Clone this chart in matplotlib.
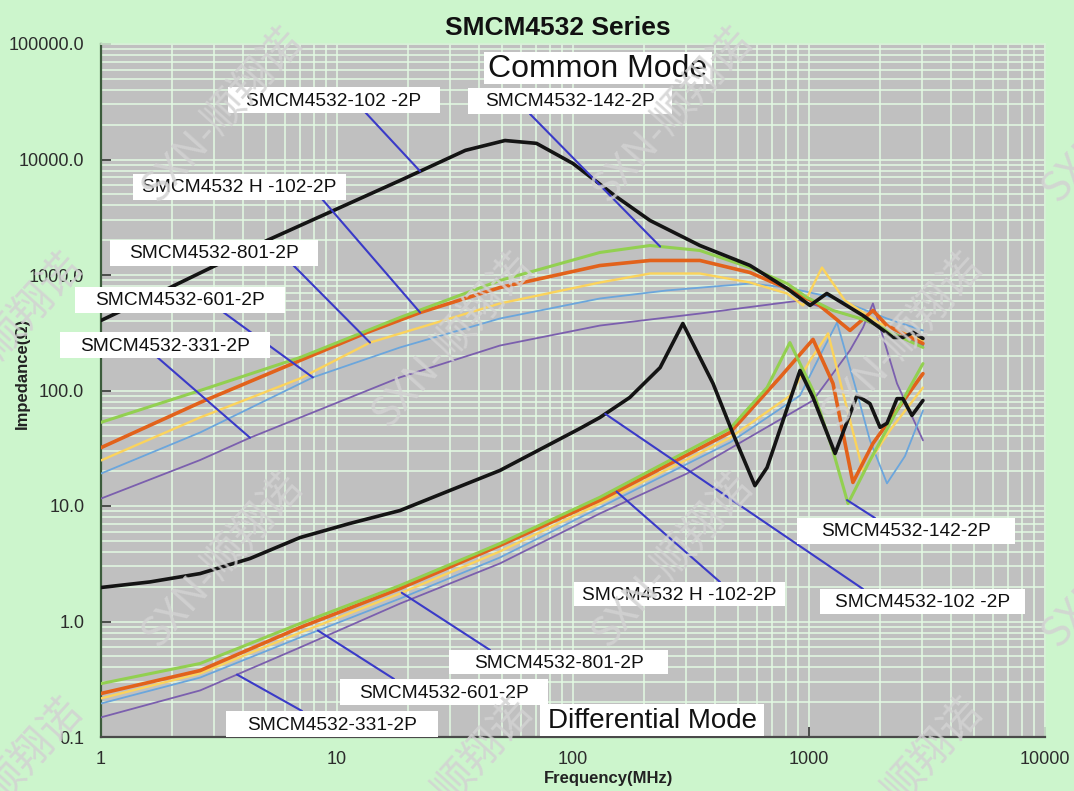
import numpy as np
import matplotlib
matplotlib.use('Agg')
import matplotlib.pyplot as plt
from matplotlib.patches import Rectangle

plt.rcParams['font.family'] = ['Liberation Sans', 'DejaVu Sans']

# ---------------- data (frequency MHz, impedance Ohm) ----------------
# Common mode
cm_102_f = [1, 1.61, 5.05, 18.5, 35, 51.5, 70, 100, 150, 212, 345, 562, 807, 1010, 1190, 1694, 2270, 2500, 2760, 3040]
cm_102_z = [404, 640, 1990, 6580, 12000, 14600, 13800, 9230, 4880, 2965, 1800, 1210, 764, 545, 692, 446, 288, 288, 318, 282]

cm_142_f = [1, 2.63, 6.97, 18.5, 49, 130, 212, 345, 562, 807, 982, 1264, 1762, 2270, 3040]
cm_142_z = [53, 100, 193, 429, 896, 1567, 1800, 1630, 1160, 844, 638, 493, 404, 312, 236]

cm_h102_f = [1, 2.63, 6.97, 13.4, 22.5, 49, 130, 212, 345, 562, 807, 1082, 1492, 1866, 2140, 3040]
cm_h102_z = [32, 78.7, 182, 318, 473, 779, 1208, 1336, 1336, 1051, 764, 567, 331, 493, 365, 255]

cm_801_f = [1, 2.63, 6.97, 13.8, 49, 130, 212, 345, 562, 807, 944, 1135, 1420, 2000, 3040]
cm_801_z = [24.8, 58.4, 127, 260, 567, 861, 1030, 1030, 861, 692, 545, 1160, 601, 380, 271]

cm_601_f = [1, 2.63, 7.91, 18.5, 49, 130, 250, 562, 807, 1264, 2140, 3040]
cm_601_z = [19.1, 43.3, 130, 236, 420, 626, 735, 844, 779, 638, 420, 331]

cm_331_f = [1, 2.63, 4.28, 18.5, 49, 130, 345, 916, 1644, 3040]
cm_331_z = [11.6, 25, 39, 130, 245, 365, 464, 601, 420, 245]

# Differential mode
dm_102_f = [1, 1.61, 2.63, 4.28, 6.97, 11.3, 18.5, 30, 49, 107, 130, 174, 234, 292, 392, 476, 590, 664,
            916, 1040, 1290, 1597, 1812, 2000, 2140, 2360, 2500, 2730, 3040]
dm_102_z = [1.97, 2.2, 2.6, 3.51, 5.33, 7.05, 9.14, 13.6, 20.3, 46.9, 58.4, 87, 158, 380, 115, 42.5, 15, 21.5,
            149, 87, 28.5, 90.5, 77, 48, 52, 85, 85, 60.8, 82]

dm_142_f = [1, 2.63, 6.97, 18.5, 49, 130, 463, 664, 830, 1040, 1264, 1463, 1812, 2360, 3040]
dm_142_z = [0.29, 0.433, 0.96, 2.05, 4.73, 11.9, 46.9, 106, 260, 100, 30, 10.5, 24.8, 67, 171]

dm_h102_f = [1, 2.63, 6.97, 18.5, 49, 130, 463, 754, 1040, 1264, 1535, 1866, 3040]
dm_h102_z = [0.238, 0.376, 0.887, 1.93, 4.55, 11.2, 43.3, 130, 277, 115, 16, 34.8, 140]

dm_801_f = [1, 2.63, 6.97, 18.5, 49, 130, 463, 830, 1010, 1205, 1420, 1694, 2200, 3040]
dm_801_z = [0.216, 0.355, 0.80, 1.75, 4.04, 10.5, 39, 90, 182, 312, 82, 20, 45, 106]

dm_601_f = [1, 2.63, 6.97, 18.5, 49, 130, 463, 916, 1114, 1315, 1567, 1812, 2140, 2550, 3040]
dm_601_z = [0.195, 0.327, 0.727, 1.58, 3.58, 9.7, 35.5, 90.5, 201, 388, 110, 37, 15.7, 27, 67]

dm_331_f = [1, 2.63, 6.97, 18.5, 49, 130, 304, 1040, 1490, 1694, 1866, 2360, 3040]
dm_331_z = [0.148, 0.253, 0.596, 1.43, 3.18, 8.61, 19.1, 82, 222, 351, 567, 115, 37]

x_ticks = [1, 10, 100, 1000, 10000]
x_tick_labels = ['1', '10', '100', '1000', '10000']
y_ticks = [0.1, 1, 10, 100, 1000, 10000, 100000]
y_tick_labels = ['0.1', '1.0', '10.0', '100.0', '1000.0', '10000.0', '100000.0']

# ---------------- figure ----------------
W, H = 1074, 791
fig = plt.figure(figsize=(W / 100, H / 100), dpi=100, facecolor='#ccf5cc')


def fx(px):
    return px / W


def fy(py):
    return 1 - py / H


ax = fig.add_axes([fx(101), fy(737), 944 / W, 693 / H])
ax.set_facecolor('#c0c0c0')
ax.set_xscale('log')
ax.set_yscale('log')
ax.set_xlim(1, 10000)
ax.set_ylim(0.1, 100000)
ax.grid(which='both', color='#e2fae2', lw=1.1)
ax.set_axisbelow(True)
ax.set_xticks(x_ticks)
ax.set_xticklabels(x_tick_labels)
ax.set_yticks(y_ticks)
ax.set_yticklabels(y_tick_labels)
ax.tick_params(which='minor', length=0)
ax.tick_params(which='major', direction='in', length=7, width=1.3, color='#404040',
               labelsize=13, labelcolor='#2c2c2c')
ax.tick_params(axis='y', pad=12)
ax.tick_params(axis='x', pad=10)
ax.spines['left'].set_color('#3c5c3c')
ax.spines['left'].set_linewidth(1.6)
ax.spines['bottom'].set_color('#4a4a4a')
ax.spines['bottom'].set_linewidth(1.6)
for s in ('top', 'right'):
    ax.spines[s].set_color('#d8f2d8')
    ax.spines[s].set_linewidth(1.2)

c_black, c_green, c_orange = '#141414', '#92d050', '#e2621b'
c_yellow, c_blue, c_purple = '#fbd35c', '#6ba6dc', '#7b5fae'

series = [
    (cm_331_f, cm_331_z, c_purple, 1.3), (dm_331_f, dm_331_z, c_purple, 1.3),
    (cm_601_f, cm_601_z, c_blue, 1.3), (dm_601_f, dm_601_z, c_blue, 1.3),
    (cm_801_f, cm_801_z, c_yellow, 1.7), (dm_801_f, dm_801_z, c_yellow, 1.7),
    (cm_h102_f, cm_h102_z, c_orange, 2.6), (dm_h102_f, dm_h102_z, c_orange, 2.6),
    (cm_142_f, cm_142_z, c_green, 2.2), (dm_142_f, dm_142_z, c_green, 2.2),
    (cm_102_f, cm_102_z, c_black, 2.6), (dm_102_f, dm_102_z, c_black, 2.6),
]
for f, z, c, lw in series:
    ax.plot(f, z, color=c, lw=lw, solid_joinstyle='round', solid_capstyle='round', zorder=3)


def on_curve(f, z, ft):
    return ft, 10 ** np.interp(np.log10(ft), np.log10(f), np.log10(z))


# label text, box (x0, x1, y0, y1 in px), pointer start (px), series, target frequency
labels = [
    ('SMCM4532-102 -2P', (228, 440, 87, 113), (365, 112), cm_102_f, cm_102_z, 22.5),
    ('SMCM4532-142-2P', (468, 672, 88, 114), (530, 114), cm_142_f, cm_142_z, 234),
    ('SMCM4532 H -102-2P', (133, 346, 174, 200), (322, 199), cm_h102_f, cm_h102_z, 22.5),
    ('SMCM4532-801-2P', (110, 318, 240, 266), (293, 265), cm_801_f, cm_801_z, 13.8),
    ('SMCM4532-601-2P', (75, 285, 287, 313), (223, 312), cm_601_f, cm_601_z, 7.9),
    ('SMCM4532-331-2P', (60, 270, 332, 358), (157, 357), cm_331_f, cm_331_z, 4.28),
    ('SMCM4532-142-2P', (797, 1015, 518, 544), (875, 518), dm_142_f, dm_142_z, 1449),
    ('SMCM4532-102 -2P', (820, 1025, 589, 614), (863, 589), dm_102_f, dm_102_z, 137),
    ('SMCM4532 H -102-2P', (574, 785, 582, 606), (720, 582), dm_h102_f, dm_h102_z, 153),
    ('SMCM4532-801-2P', (449, 668, 650, 674), (490, 650), dm_801_f, dm_801_z, 18.8),
    ('SMCM4532-601-2P', (340, 548, 679, 705), (394, 679), dm_601_f, dm_601_z, 8.3),
    ('SMCM4532-331-2P', (226, 438, 711, 737), (302, 711), dm_331_f, dm_331_z, 3.77),
]


def white_box(x0, x1, y0, y1):
    fig.patches.append(Rectangle((fx(x0), fy(y1)), (x1 - x0) / W, (y1 - y0) / H,
                                 transform=fig.transFigure, fc='white', ec='none',
                                 zorder=5))


for txt, (x0, x1, y0, y1), (sx, sy), f, z, ft in labels:
    ax.annotate('', xy=on_curve(f, z, ft), xycoords='data',
                xytext=(fx(sx), fy(sy)), textcoords='figure fraction',
                arrowprops=dict(arrowstyle='-', color='#3a3ac8', lw=1.5,
                                shrinkA=0, shrinkB=0),
                annotation_clip=False, zorder=4)
    white_box(x0, x1, y0, y1)
    fig.text(fx((x0 + x1) / 2), fy((y0 + y1) / 2 + 1), txt, ha='center', va='center',
             fontsize=13.8, color='#111111', zorder=6)

white_box(484, 712, 52, 84)
fig.text(fx(598), fy(69), 'Common Mode', ha='center', va='center', fontsize=23,
         color='#111111', zorder=6)
white_box(540, 764, 704, 736)
fig.text(fx(652), fy(721), 'Differential Mode', ha='center', va='center', fontsize=20,
         color='#111111', zorder=6)

fig.text(fx(558), fy(28), 'SMCM4532 Series', ha='center', va='center', fontsize=19,
         fontweight='bold', color='#111111')
fig.text(fx(609), fy(778), 'Frequency(MHz)', ha='center', va='center', fontsize=12,
         fontweight='bold', color='#222222')
fig.text(fx(22), fy(373), 'Impedance(Ω)', ha='center', va='center', fontsize=12,
         fontweight='bold', color='#222222', rotation=90)

# watermarks
for row, yc in enumerate([115, 340, 560, 785]):
    shift = 0 if row % 2 == 0 else -220
    for k in range(4):
        xc = 222 + shift + 450 * k
        fig.text(fx(xc), fy(yc), 'SXN-顺翔诺', ha='center', va='center', fontsize=30,
                 rotation=48, color='#d2d2d2', alpha=0.85, zorder=20,
                 family=['Noto Sans CJK SC', 'DejaVu Sans'])

fig.savefig('out.png', dpi=100, facecolor=fig.get_facecolor())
